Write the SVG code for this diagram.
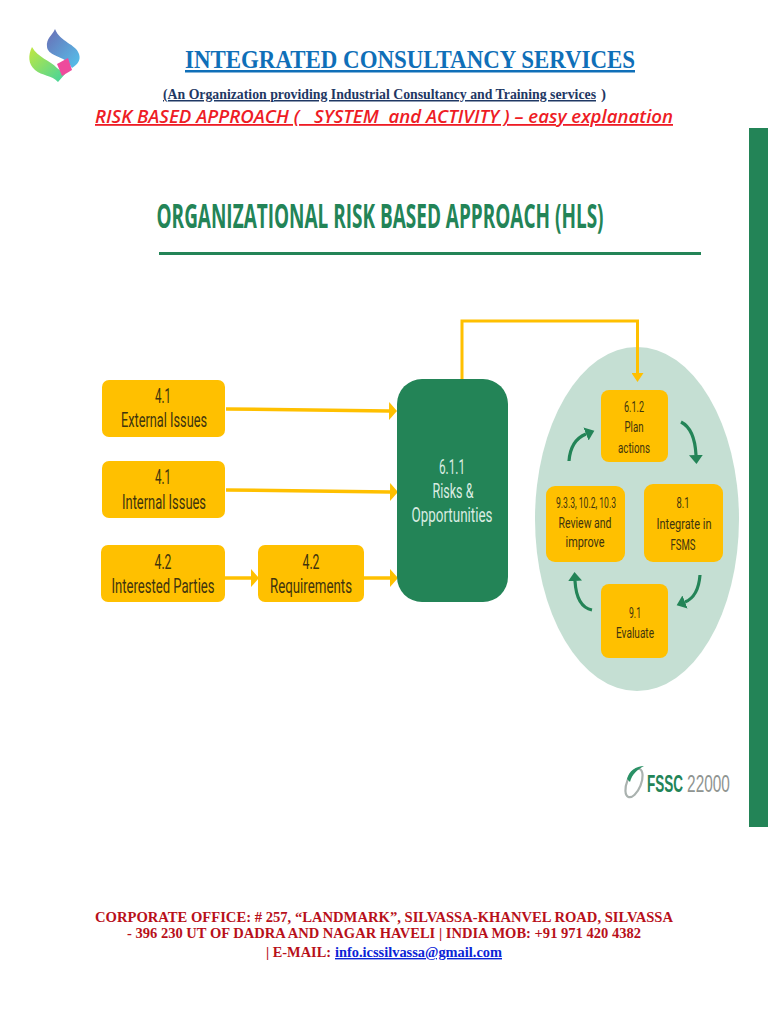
<svg xmlns="http://www.w3.org/2000/svg" width="768" height="1024" viewBox="0 0 768 1024">
<style>
.box{fill:#ffc000}
.dk{font-family:Roboto,"Liberation Sans",sans-serif;font-size:20px;fill:#40340e;text-anchor:middle}
.sm{font-size:15px}
.wt{font-family:Roboto,"Liberation Sans",sans-serif;font-size:20px;fill:#d9ece2;text-anchor:middle}
.yl{fill:none;stroke:#ffc000;stroke-width:3.500}
.gr{fill:none;stroke:#238457;stroke-width:3.200}
.foot{font-family:"Liberation Serif",serif;font-weight:bold;font-size:14px;fill:#b8101a;text-anchor:middle}
</style>
<defs>
<marker id="ya" markerUnits="userSpaceOnUse" markerWidth="10" markerHeight="18" refX="0" refY="9" orient="auto"><path d="M0 0L8 9L0 18Z" fill="#ffc000"/></marker>
<marker id="yb" markerUnits="userSpaceOnUse" markerWidth="10" markerHeight="12" refX="0" refY="6" orient="auto"><path d="M0 0L9 6L0 12Z" fill="#ffc000"/></marker>
<marker id="ga" markerUnits="userSpaceOnUse" markerWidth="10" markerHeight="14" refX="0" refY="7" orient="auto"><path d="M0 0L9 7L0 14Z" fill="#238457"/></marker>
<linearGradient id="lb" x1="0" y1="0" x2="1" y2="1"><stop offset="0" stop-color="#6a6db5"/><stop offset="1" stop-color="#55c3ec"/></linearGradient>
<linearGradient id="lg" x1="0" y1="0" x2="1" y2="1"><stop offset="0" stop-color="#c3e83f"/><stop offset="1" stop-color="#40d3a0"/></linearGradient>
<filter id="soft" x="-10%" y="-10%" width="120%" height="120%"><feGaussianBlur stdDeviation="0.600"/></filter>
</defs>

<g id="logo" filter="url(#soft)">
<path d="M32 47C28 55 28 64 35 70C42 76 52 75 58 82L65 74L57 68C50 60 38 58 32 47Z" fill="url(#lg)"/>
<path d="M55 29C52 36 46 38 47 47C48 55 60 56 68 62L72 68C78 64 81 60 79 54C76 44 60 42 55 29Z" fill="url(#lb)"/>
<path d="M57 64L68 58L72 70L62 76Z" fill="#ee4c9c"/>
</g>

<g id="header">
<text x="410" y="68" font-family="Liberation Serif,serif" font-weight="bold" font-size="25px" fill="#0f6fb8" text-anchor="middle" text-decoration="underline" textLength="450" lengthAdjust="spacingAndGlyphs">INTEGRATED CONSULTANCY SERVICES</text>
<text x="163" y="99" font-family="Liberation Serif,serif" font-weight="bold" font-size="15px" fill="#1f3864" text-decoration="underline" textLength="433" lengthAdjust="spacingAndGlyphs">(An Organization providing Industrial Consultancy and Training services</text>
<text x="601" y="99" font-family="Liberation Serif,serif" font-weight="bold" font-size="15px" fill="#1f3864">)</text>
<text x="384" y="123" font-family="Open Sans,Liberation Sans,sans-serif" font-weight="600" font-style="italic" font-size="18px" fill="#ee1c25" text-anchor="middle" text-decoration="underline" textLength="578" lengthAdjust="spacingAndGlyphs" xml:space="preserve">RISK BASED APPROACH (   SYSTEM  and ACTIVITY ) – easy explanation</text>
</g>

<g id="title">
<text transform="translate(380 228) scale(.6 1)" font-family="Open Sans,Liberation Sans,sans-serif" font-weight="700" font-size="34px" fill="#238457" text-anchor="middle" textLength="745" lengthAdjust="spacingAndGlyphs">ORGANIZATIONAL RISK BASED APPROACH (HLS)</text>
<rect x="159" y="252" width="542" height="3" fill="#238457"/>
</g>

<rect id="side-bar" x="749" y="128" width="19" height="699" fill="#238457"/>

<g id="cycle-bg"><ellipse cx="637" cy="519" rx="102" ry="172" fill="#c5dfd3"/></g>

<g id="connectors">
<path class="yl" d="M226 409L389 411" marker-end="url(#ya)"/>
<path class="yl" d="M226 490L390 492" marker-end="url(#ya)"/>
<path class="yl" d="M225 578L251 578" marker-end="url(#ya)"/>
<path class="yl" d="M364 578L390 578" marker-end="url(#ya)"/>
<path class="yl" d="M462 380V321H637.500V373" style="stroke-width:3" marker-end="url(#yb)"/>
<path class="gr" d="M681 422C689 426 695 436 696 455" marker-end="url(#ga)"/>
<path class="gr" d="M700 575C699 588 695 598 685 602" marker-end="url(#ga)"/>
<path class="gr" d="M592 610C582 608 576 598 575 581" marker-end="url(#ga)"/>
<path class="gr" d="M569 461C570 448 576 438 586 434" marker-end="url(#ga)"/>
</g>

<g id="n-external"><rect class="box" x="102" y="380" width="123" height="57" rx="7"/>
<text class="dk" x="163" y="403" textLength="16" lengthAdjust="spacingAndGlyphs">4.1</text><text class="dk" x="164" y="427" textLength="86" lengthAdjust="spacingAndGlyphs">External Issues</text></g>
<g id="n-internal"><rect class="box" x="102" y="461" width="123" height="57" rx="7"/>
<text class="dk" x="163" y="484" textLength="16" lengthAdjust="spacingAndGlyphs">4.1</text><text class="dk" x="164" y="509" textLength="84" lengthAdjust="spacingAndGlyphs">Internal Issues</text></g>
<g id="n-parties"><rect class="box" x="101" y="545" width="124" height="57" rx="7"/>
<text class="dk" x="163" y="569" textLength="17" lengthAdjust="spacingAndGlyphs">4.2</text><text class="dk" x="163" y="593" textLength="103" lengthAdjust="spacingAndGlyphs">Interested Parties</text></g>
<g id="n-requirements"><rect class="box" x="258" y="545" width="106" height="57" rx="7"/>
<text class="dk" x="311" y="569" textLength="17" lengthAdjust="spacingAndGlyphs">4.2</text><text class="dk" x="311" y="593" textLength="82" lengthAdjust="spacingAndGlyphs">Requirements</text></g>
<g id="n-risks"><rect x="397" y="379" width="111" height="223" rx="25" fill="#238457"/>
<text class="wt" x="452" y="474" textLength="26" lengthAdjust="spacingAndGlyphs">6.1.1</text><text class="wt" x="453" y="498" textLength="41" lengthAdjust="spacingAndGlyphs">Risks &amp;</text><text class="wt" x="452" y="522" textLength="81" lengthAdjust="spacingAndGlyphs">Opportunities</text></g>

<g id="n-plan"><rect class="box" x="601" y="390" width="67" height="72" rx="8"/>
<text class="dk sm" x="634" y="412" textLength="20" lengthAdjust="spacingAndGlyphs">6.1.2</text><text class="dk sm" x="634" y="432" textLength="19" lengthAdjust="spacingAndGlyphs">Plan</text><text class="dk sm" x="634" y="453" textLength="32" lengthAdjust="spacingAndGlyphs">actions</text></g>
<g id="n-integrate"><rect class="box" x="644" y="484" width="79" height="78" rx="9"/>
<text class="dk sm" x="683" y="508" textLength="13" lengthAdjust="spacingAndGlyphs">8.1</text><text class="dk sm" x="684" y="529" textLength="55" lengthAdjust="spacingAndGlyphs">Integrate in</text><text class="dk sm" x="683" y="550" textLength="25" lengthAdjust="spacingAndGlyphs">FSMS</text></g>
<g id="n-review"><rect class="box" x="546" y="486" width="79" height="76" rx="9"/>
<text class="dk sm" x="586" y="508" textLength="60" lengthAdjust="spacingAndGlyphs">9.3.3, 10.2, 10.3</text><text class="dk sm" x="585" y="528" textLength="53" lengthAdjust="spacingAndGlyphs">Review and</text><text class="dk sm" x="585" y="547" textLength="39" lengthAdjust="spacingAndGlyphs">improve</text></g>
<g id="n-evaluate"><rect class="box" x="601" y="584" width="67" height="74" rx="8"/>
<text class="dk sm" x="635" y="618" textLength="12" lengthAdjust="spacingAndGlyphs">9.1</text><text class="dk sm" x="635" y="638" textLength="38" lengthAdjust="spacingAndGlyphs">Evaluate</text></g>

<g id="fssc-logo">
<g filter="url(#soft)">
<ellipse cx="634" cy="783" rx="7" ry="15" transform="rotate(22 634 783)" fill="none" stroke="#aab2af" stroke-width="2.200"/>
<path d="M627 779C629 771 636 766 644 766C638 769 632 774 630 782Z" fill="#2c9166"/>
</g>
<text transform="translate(665 792) scale(.62 1)" font-family="Liberation Sans,sans-serif" font-weight="bold" font-size="23px" fill="#238457" text-anchor="middle" textLength="58" lengthAdjust="spacingAndGlyphs">FSSC</text>
<text transform="translate(708.500 792) scale(.68 1)" font-family="Liberation Sans,sans-serif" font-size="23px" fill="#8f9491" text-anchor="middle" textLength="63" lengthAdjust="spacingAndGlyphs">22000</text>
</g>

<g id="footer">
<text class="foot" x="384" y="922" textLength="578" lengthAdjust="spacingAndGlyphs">CORPORATE OFFICE: # 257, “LANDMARK”, SILVASSA-KHANVEL ROAD, SILVASSA</text>
<text class="foot" x="384" y="938" textLength="514" lengthAdjust="spacingAndGlyphs">- 396 230 UT OF DADRA AND NAGAR HAVELI | INDIA MOB: +91 971 420 4382</text>
<text class="foot" x="266" y="957" style="text-anchor:start" textLength="65" lengthAdjust="spacingAndGlyphs">| E-MAIL:</text>
<text class="foot" x="335" y="957" style="text-anchor:start;fill:#0b24d6" text-decoration="underline" textLength="167" lengthAdjust="spacingAndGlyphs">info.icssilvassa@gmail.com</text>
</g>
</svg>
